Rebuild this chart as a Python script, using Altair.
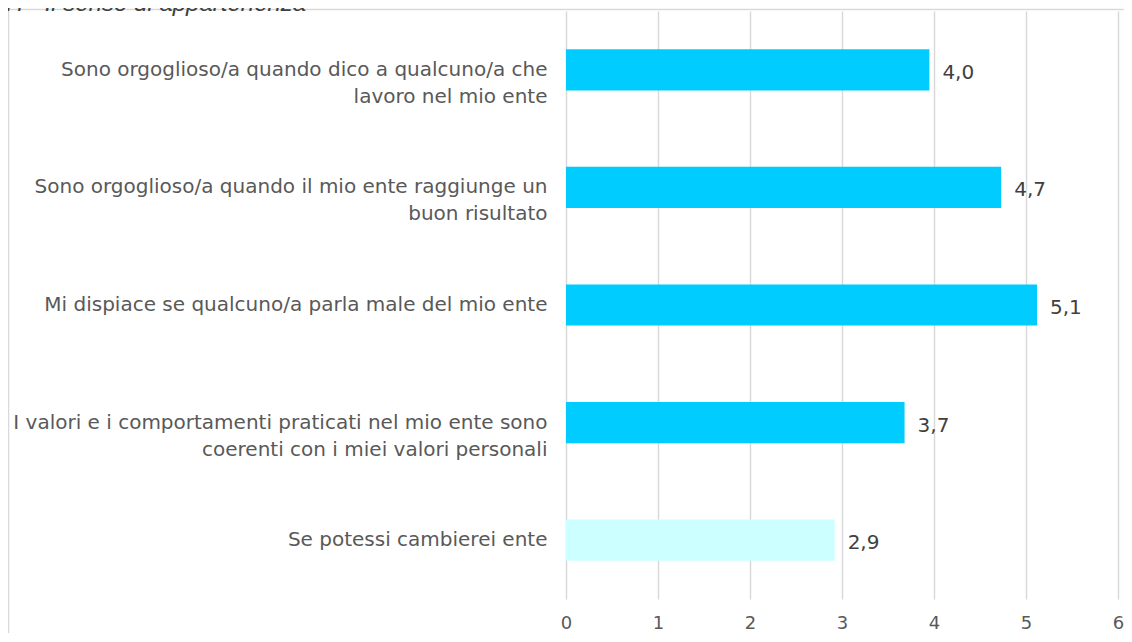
import altair as alt
import pandas as pd

title_text = "H - Il senso di appartenenza"
categories = [
    "Sono orgoglioso/a quando dico a qualcuno/a che\nlavoro nel mio ente",
    "Sono orgoglioso/a quando il mio ente raggiunge un\nbuon risultato",
    "Mi dispiace se qualcuno/a parla male del mio ente",
    "I valori e i comportamenti praticati nel mio ente sono\ncoerenti con i miei valori personali",
    "Se potessi cambierei ente",
]
values = [3.95, 4.73, 5.12, 3.68, 2.92]
value_labels = ["4,0", "4,7", "5,1", "3,7", "2,9"]
x_ticks = [0, 1, 2, 3, 4, 5, 6]

df = pd.DataFrame({"cat": categories, "val": values, "lab": value_labels})

FONT = "DejaVu Sans"

y_enc = alt.Y(
    "cat:N",
    sort=categories,
    title=None,
    scale=alt.Scale(paddingInner=0.65, paddingOuter=0.325),
    axis=alt.Axis(
        labelExpr="split(datum.label, '\\n')",
        labelAlign="right",
        labelBaseline="middle",
        labelPadding=19,
        ticks=False,
        tickSize=0,
        domain=False,
        grid=False,
        labelFont=FONT,
        labelFontSize=20,
        labelColor="#595959",
        labelLineHeight=27,
        labelLimit=0,
    ),
)

x_enc = alt.X(
    "val:Q",
    title=None,
    scale=alt.Scale(domain=[0, 6], nice=False, zero=True),
    axis=alt.Axis(
        values=x_ticks,
        format="d",
        grid=True,
        gridColor="#d9d9d9",
        gridWidth=1.5,
        ticks=False,
        tickSize=0,
        domain=False,
        labelFlush=False,
        labelFont=FONT,
        labelFontSize=18,
        labelColor="#595959",
        labelPadding=15,
    ),
)

bars = alt.Chart(df).mark_bar().encode(
    y=y_enc,
    x=x_enc,
    color=alt.condition(
        alt.datum.cat == "Se potessi cambierei ente",
        alt.value("#CCFFFF"),
        alt.value("#00CCFF"),
    ),
)

texts = alt.Chart(df).mark_text(
    align="left", baseline="middle", dx=13, dy=3, font=FONT, fontSize=20, color="#404040"
).encode(y=alt.Y("cat:N", sort=categories), x="val:Q", text="lab:N")

border = alt.Chart(alt.Data(values=[{"a": 1}])).mark_rect(
    fillOpacity=0, stroke="#d9d9d9", strokeWidth=1.5
).encode(
    x=alt.value(-557.5), x2=alt.value(600), y=alt.value(-1.5), y2=alt.value(700)
)

title = alt.Chart(alt.Data(values=[{"t": title_text}])).mark_text(
    align="left", baseline="alphabetic", font="Liberation Sans", fontStyle="italic",
    fontSize=24, color="#404040"
).encode(x=alt.value(-560), y=alt.value(-0.5), text="t:N")

chart = alt.layer(border, bars, texts, title).properties(
    width=552,
    height=588,
    padding={"left": 558, "top": 3, "right": 6, "bottom": 34},
    autosize=alt.AutoSizeParams(type="none"),
).configure_view(stroke=None)

chart.save("out.html", embed_options={"renderer": "svg", "actions": False})
